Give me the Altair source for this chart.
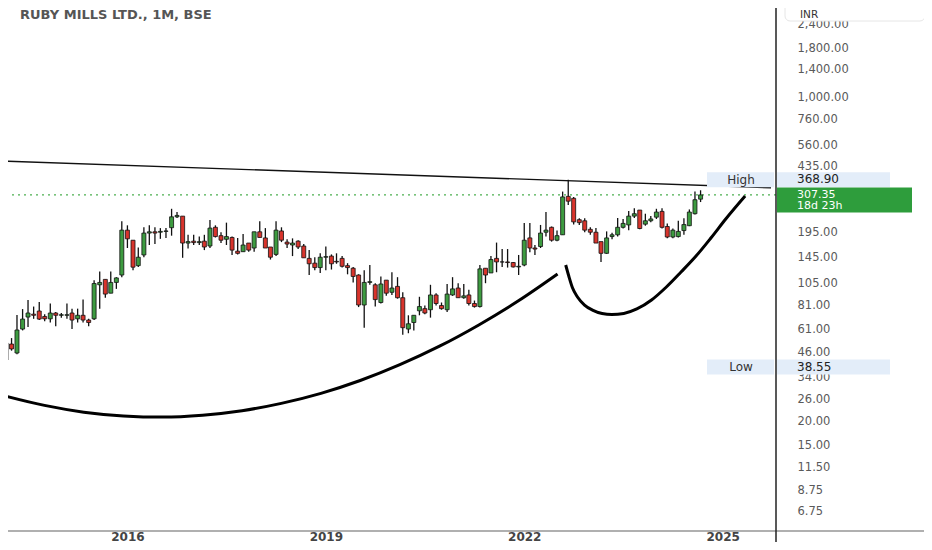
import altair as alt
import pandas as pd

# ---------------- data ----------------
months = pd.date_range("2014-03-01", periods=127, freq="MS")

opens = [42, 50.9, 45.7, 61, 70.5, 73, 75.8, 71, 69, 74,
         72, 72, 74, 69, 72, 68, 69, 104, 111, 94,
         107, 117, 201, 178, 131, 149, 194, 197, 196, 198,
         207, 236, 238, 172, 176, 173, 176, 166, 208, 188,
         180, 184, 156, 155, 172, 162, 197, 183, 164, 150,
         199, 174, 168, 176, 166, 143, 135, 128, 145, 147,
         138, 143, 131, 127, 117, 81.5, 107, 104, 84, 110,
         95, 102, 89, 61, 66, 76, 78, 77, 92, 81,
         77, 92, 100, 89, 92, 83, 80, 127, 120, 143,
         137, 137, 136, 129, 132, 183, 162, 165, 196, 208,
         178, 190, 302, 295, 228, 225, 203, 196, 175, 152,
         186, 190, 208, 214, 238, 256, 216, 225, 235, 252,
         210, 185, 186, 200, 212, 245, 292]
highs = [52.3, 54.7, 72.2, 77.6, 86.6, 80, 84.5, 73, 83, 75,
         74, 83, 78, 78, 87, 69, 110, 122, 111, 122,
         114, 224, 213, 178, 163, 208, 213, 208, 206, 206,
         260, 250, 238, 190, 190, 186, 190, 227, 213, 196,
         220, 186, 183, 192, 172, 197, 224, 206, 164, 224,
         208, 180, 182, 178, 170, 158, 145, 152, 165, 150,
         152, 147, 135, 129, 118, 124, 132, 106, 115, 110,
         121, 114, 95, 72, 72, 90, 81, 104, 94, 84,
         105, 114, 106, 105, 98, 86, 132, 127, 147, 173,
         160, 160, 137, 149, 219, 219, 168, 214, 250, 210,
         200, 320, 368.9, 300, 232, 232, 208, 206, 175, 198,
         195, 233, 230, 253, 262, 256, 245, 238, 260, 262,
         218, 205, 225, 232, 258, 320, 325]
lows = [38.55, 47, 45, 60, 62.6, 69, 68, 67, 66, 63,
        70, 69, 61, 66, 66, 63, 68, 78, 89, 94,
        99, 114, 162, 124, 129, 145, 168, 170, 181, 183,
        188, 233, 144, 161, 168, 168, 158, 162, 184, 172,
        168, 149, 150, 155, 155, 155, 184, 162, 141, 147,
        174, 162, 147, 160, 144, 117, 124, 120, 124, 125,
        134, 128, 118, 107, 79.5, 62, 104, 80, 83, 91,
        92, 88, 57, 58, 60, 72, 73, 70, 81, 77,
        75, 91, 89, 88, 81, 79, 79, 106, 120, 121,
        129, 128, 128, 117, 130, 154, 149, 162, 186, 175,
        176, 190, 272, 215, 214, 196, 190, 172, 137, 151,
        180, 186, 205, 201, 233, 203, 212, 221, 230, 205,
        182, 182, 184, 190, 211, 243, 282]
closes = [51.6, 48, 60.3, 68.8, 74, 72, 68.8, 69, 74, 72,
          72.5, 72.5, 68, 72, 68, 66, 105.6, 107, 93, 107,
          113, 201, 181, 128.6, 145, 194, 197, 194, 198, 199,
          236, 240, 172, 175, 173, 175, 164, 206, 186, 178,
          186, 158, 152, 168, 158, 197, 184, 162, 145, 201,
          178, 170, 172, 164, 144, 134, 128, 145, 146, 134,
          137, 130, 128, 115, 81.5, 107, 108, 87, 105, 94,
          100, 89, 62, 65, 72, 80, 74, 92, 83, 78,
          93, 99, 89, 91, 83, 80, 126, 117, 141, 137,
          137, 136, 129, 130, 178, 162, 160, 194, 201, 178,
          188, 300, 285, 222, 220, 201, 196, 172, 152, 183,
          190, 208, 218, 238, 245, 205, 225, 230, 250, 208,
          185, 201, 198, 215, 250, 290, 307.35]

# drawn trendline (two anchor points)
trend_dates = ["2014-02-26", "2025-09-25"]
trend_prices = [462, 335]

# drawn cup curve
cup_dates = ["2014-02-26", "2014-09-30", "2015-05-05", "2015-12-10", "2016-07-15",
             "2017-02-19", "2017-09-25", "2018-04-30", "2018-12-05", "2019-07-10",
             "2020-02-14", "2020-09-20", "2021-04-25", "2021-11-30", "2022-07-04"]
cup_prices = [27.2, 24.3, 22.4, 21.4, 21.1, 21.6, 22.8, 24.9, 28.1, 32.8,
              39.7, 49.6, 64.1, 85.7, 118.4]

# drawn handle curve
handle_dates = ["2022-08-18", "2022-09-04", "2022-09-25", "2022-10-22", "2022-11-30",
                "2023-01-13", "2023-03-07", "2023-04-30", "2023-07-05", "2023-09-15",
                "2023-12-05", "2024-02-25", "2024-05-16", "2024-08-07", "2024-10-28",
                "2025-01-18", "2025-05-05"]
handle_prices = [132.0, 115.6, 100.0, 89.8, 81.5, 76.7, 73.6, 72.7, 73.6, 77.7,
                 86.6, 101.3, 121.3, 147.1, 182.8, 229.9, 303.3]

# (335.00 and 255.00 sit under the price tags in the picture)
y_ticks = [6.75, 8.75, 11.5, 15, 20, 26, 34, 46, 61, 81, 105, 145, 195,
           435, 560, 760, 1000, 1400, 1800, 2400]
year_ticks = [2016, 2019, 2022, 2025]

title_text = "RUBY MILLS LTD., 1M, BSE"
currency = "INR"
last_price = 307.35
countdown = "18d 23h"
marker_names = ["High", "Low"]
marker_prices = [368.90, 38.55]

# ---------------- tables ----------------
candles = pd.DataFrame({"date": months, "open": opens, "high": highs,
                        "low": lows, "close": closes})
candles["up"] = candles["close"] >= candles["open"]

trend = pd.DataFrame({"date": pd.to_datetime(trend_dates), "price": trend_prices})
cup = pd.DataFrame({"date": pd.to_datetime(cup_dates), "price": cup_prices})
handle = pd.DataFrame({"date": pd.to_datetime(handle_dates), "price": handle_prices})
markers = pd.DataFrame({"name": marker_names, "price": marker_prices,
                        "label": [f"{p:.2f}" for p in marker_prices]})
last = pd.DataFrame({"price": [last_price], "label": [f"{last_price:.2f}"],
                     "count": [countdown]})
one = pd.DataFrame({"a": [0]})

FONT = "DejaVu Sans"

x_scale = alt.Scale(domain=[alt.DateTime(year=2014, month=4, date=9),
                            alt.DateTime(year=2025, month=9, date=25)])
y_scale = alt.Scale(type="log", domain=[5.41, 2925.8], nice=False)

x_axis = alt.Axis(values=[alt.DateTime(year=y, month=1, date=1) for y in year_ticks],
                  format="%Y", title=None, grid=False, domain=False, ticks=False,
                  labelFont=FONT, labelFontSize=12, labelFontWeight="bold",
                  labelColor="#444444", labelPadding=10, labelBaseline="alphabetic",
                  labelFlush=False, zindex=0)
y_axis = alt.Axis(orient="right", values=y_ticks, format=",.2f", title=None,
                  grid=False, domain=False, ticks=False, labelAlign="left",
                  labelPadding=21, labelFont=FONT, labelFontSize=11.5,
                  labelColor="#5a5a5a", labelOverlap=False, labelBound=False,
                  labelFlush=False, zindex=0)


def X(f="date"):
    return alt.X(f"{f}:T", scale=x_scale, axis=x_axis)


def Y(f):
    return alt.Y(f"{f}:Q", scale=y_scale, axis=y_axis)


last_line = alt.Chart(last).mark_rule(color="#4caf50", strokeDash=[2, 4],
                                      strokeWidth=1.2).encode(y=Y("price"))

trend_line = alt.Chart(trend).mark_line(color="#111111", strokeWidth=1.4).encode(
    x=X(), y=Y("price"))

wicks = alt.Chart(candles).mark_rule(color="#111111", strokeWidth=1.3).encode(
    x=X(), y=Y("low"), y2="high:Q")

bodies = alt.Chart(candles).mark_bar(size=4, stroke="#111111", strokeWidth=0.8).encode(
    x=X(), y=Y("open"), y2="close:Q",
    color=alt.Color("up:N", scale=alt.Scale(domain=[True, False],
                                            range=["#3d9b40", "#d8342c"]),
                    legend=None))

cup_line = alt.Chart(cup).mark_line(color="#000000", strokeWidth=3,
                                    interpolate="monotone").encode(x=X(), y=Y("price"))
handle_line = alt.Chart(handle).mark_line(color="#000000", strokeWidth=3,
                                          interpolate="monotone").encode(x=X(), y=Y("price"))

# marker boxes (High / Low) and their price tags
marker_box = alt.Chart(markers).mark_rule(color="#e3edf9", strokeWidth=15).encode(
    x=alt.value(699), x2=alt.value(766), y=Y("price"))
marker_text = alt.Chart(markers).mark_text(font=FONT, fontSize=12, color="#333333",
                                           align="center", baseline="middle").encode(
    x=alt.value(733), y=Y("price"), text="name:N")
tag_box = alt.Chart(markers).mark_rule(color="#e3edf9", strokeWidth=15).encode(
    x=alt.value(769), x2=alt.value(882), y=Y("price"))
tag_text = alt.Chart(markers).mark_text(font=FONT, fontSize=12, color="#222222",
                                        align="left", baseline="middle", dy=-0.5).encode(
    x=alt.value(789), y=Y("price"), text="label:N")

last_box = alt.Chart(last).mark_rule(color="#2e9d3c", strokeWidth=25, yOffset=5).encode(
    x=alt.value(769), x2=alt.value(904), y=Y("price"))
last_text = alt.Chart(last).mark_text(font=FONT, fontSize=11, color="white",
                                      align="left", baseline="middle").encode(
    x=alt.value(789), y=Y("price"), text="label:N")
count_text = alt.Chart(last).mark_text(font=FONT, fontSize=11, color="white",
                                       align="left", baseline="middle", dy=11.5).encode(
    x=alt.value(789), y=Y("price"), text="count:N")

# frame lines
v_line = alt.Chart(one).mark_rule(color="#222222", strokeWidth=1.5).encode(
    x=alt.value(768), y=alt.value(-10), y2=alt.value(540))
h_line = alt.Chart(one).mark_rule(color="#b0b0b0", strokeWidth=2).encode(
    x=alt.value(-10), x2=alt.value(930), y=alt.value(523))

inr_box = alt.Chart(one).mark_rect(fill="white", stroke="#e6e6e6", strokeWidth=1,
                                   cornerRadius=5).encode(
    x=alt.value(777), x2=alt.value(917), y=alt.value(-6), y2=alt.value(13))
inr_text = alt.Chart(pd.DataFrame({"t": [currency]})).mark_text(
    font=FONT, fontSize=10.5, color="#333333", align="left",
    baseline="alphabetic").encode(x=alt.value(792), y=alt.value(9.5), text="t:N")

title = alt.Chart(pd.DataFrame({"t": [title_text]})).mark_text(
    font=FONT, fontSize=13, fontWeight="bold", color="#555555", align="left",
    baseline="alphabetic").encode(x=alt.value(12), y=alt.value(10.5), text="t:N")

chart = alt.layer(
    last_line, trend_line, wicks, bodies, cup_line, handle_line,
    marker_box, marker_text, tag_box, tag_text,
    last_box, last_text, count_text,
    h_line, v_line, inr_box, inr_text, title
).properties(
    width=768, height=522, autosize="none",
    padding={"left": 0, "top": 0, "right": 148, "bottom": 12},
    background="white"
).configure_view(stroke="transparent")

chart.save("out.html", embed_options={"renderer": "svg", "actions": False})
